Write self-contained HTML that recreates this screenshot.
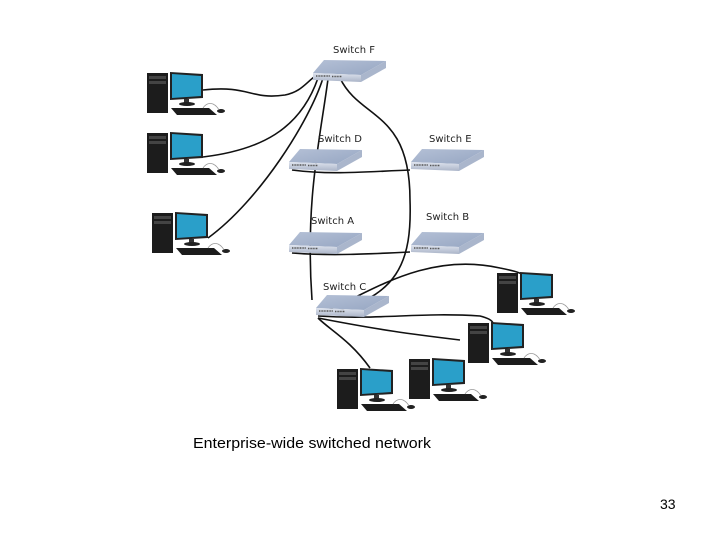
<!DOCTYPE html>
<html><head><meta charset="utf-8"><style>
html,body{margin:0;padding:0;background:#fff;}
svg{display:block}
text{font-family:"DejaVu Sans","Liberation Sans",sans-serif;}
</style></head><body>
<svg width="720" height="540" viewBox="0 0 720 540" xmlns="http://www.w3.org/2000/svg">
<defs>
<linearGradient id="tg" x1="0" y1="0" x2="1" y2="1">
<stop offset="0" stop-color="#b4c0d6"/><stop offset="1" stop-color="#96a6c2"/></linearGradient>
<linearGradient id="fg" x1="0" y1="0" x2="0" y2="1">
<stop offset="0" stop-color="#dfe4ee"/><stop offset="1" stop-color="#aab4c8"/></linearGradient>
<g id="sw">
<path d="M3,15 L14,2 L76,3 L51,17 Z" fill="url(#tg)"/>
<path d="M51,17 L76,3 L76,10 L51,24 Z" fill="#aab6cc"/>
<path d="M3,15 L51,17 L51,24 L3,22 Z" fill="url(#fg)"/>
<path d="M6,18 h14 M22,18.5 h10" stroke="#555" stroke-width="1.5" stroke-dasharray="1 0.6"/>
</g>
<g id="pc">
<rect x="0" y="1" width="21" height="40" fill="#1c1c1c"/>
<rect x="2" y="4" width="17" height="3" fill="#444"/>
<rect x="2" y="9" width="17" height="3" fill="#444"/>
<path d="M23,0 L56,2 L56,26 L23,28 Z" fill="#222"/>
<path d="M25,2 L54,4 L54,24 L25,26 Z" fill="#2a9fc9"/>
<rect x="37" y="27" width="5" height="4" fill="#333"/>
<ellipse cx="40" cy="32" rx="8" ry="2" fill="#222"/>
<path d="M24,36 L62,36 L70,43 L30,43 Z" fill="#1c1c1c"/>
<ellipse cx="74" cy="39" rx="4" ry="2" fill="#222"/>
<path d="M56,36 q4,-6 10,-4 q4,2 6,6" fill="none" stroke="#999" stroke-width="0.8"/>
</g>
</defs>
<g fill="none" stroke="#111" stroke-width="1.6">
<path d="M203,90 C250,85 250,100 285,95 C300,92 305,84 314,77"/>
<path d="M203,157 C260,150 300,130 318,78"/>
<path d="M208,238 C260,200 310,120 323,78"/>
<path d="M328,79 C320,140 305,200 312,300"/>
<path d="M340,78 C360,120 410,110 410,200 C412,260 400,300 320,314"/>
<path d="M292,170 C330,175 360,172 410,170"/>
<path d="M292,253 C330,256 370,254 410,252"/>
<path d="M318,314 C360,300 420,250 500,268 C510,270 520,272 525,276"/>
<path d="M318,316 C380,320 420,312 480,316 C488,318 492,320 493,323"/>
<path d="M318,318 C380,330 410,334 460,340"/>
<path d="M318,318 C330,330 350,340 370,368"/>
</g>
<use href="#sw" x="310" y="58"/>
<use href="#sw" x="286" y="147"/>
<use href="#sw" x="408" y="147"/>
<use href="#sw" x="286" y="230"/>
<use href="#sw" x="408" y="230"/>
<use href="#sw" x="313" y="293"/>
<g font-size="10" fill="#222">
<text x="333" y="53">Switch F</text>
<text x="318" y="142">Switch D</text>
<text x="429" y="142">Switch E</text>
<text x="311" y="224">Switch A</text>
<text x="426" y="220">Switch B</text>
<text x="323" y="290">Switch C</text>
</g>
<use href="#pc" x="147" y="72"/>
<use href="#pc" x="147" y="132"/>
<use href="#pc" x="152" y="212"/>
<use href="#pc" x="497" y="272"/>
<use href="#pc" x="468" y="322"/>
<use href="#pc" x="337" y="368"/>
<use href="#pc" x="409" y="358"/>
<text x="193" y="448" font-size="15" textLength="238" lengthAdjust="spacingAndGlyphs" fill="#000" style="font-family:'Liberation Sans',sans-serif">Enterprise-wide switched network</text>
<text x="660" y="509" font-size="14" fill="#000" style="font-family:'Liberation Sans',sans-serif">33</text>
</svg>
</body></html>
